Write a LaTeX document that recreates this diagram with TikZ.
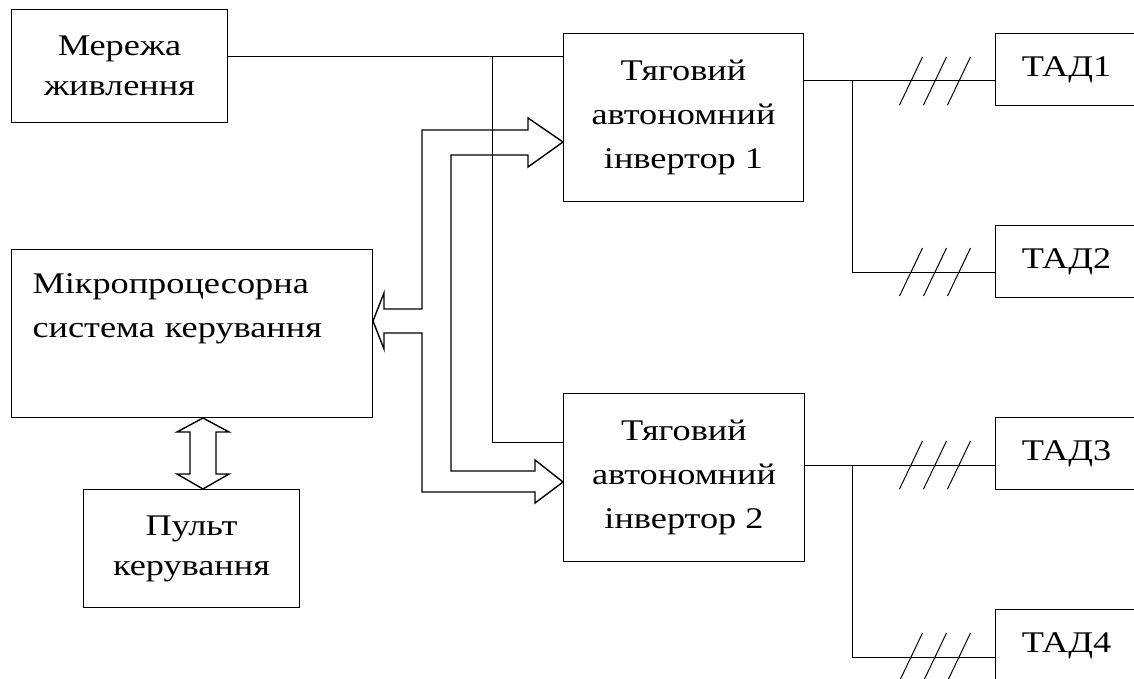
\documentclass[tikz,border=0pt]{standalone}
\usepackage{fontspec}
\setmainfont{Liberation Serif}[FakeStretch=1.21]

\begin{document}
\begin{tikzpicture}[x=1pt, y=-1pt,
    blok/.style={draw, line width=1pt, anchor=north west, align=center, inner sep=0pt,
        font=\fontsize{30}{44}\selectfont},
    tad/.style={blok, minimum width=142pt, minimum height=72pt},
    lin/.style={line width=1pt},
    shyna/.style={draw, line width=1.4pt, line join=miter}]
    \useasboundingbox (0,0) rectangle (1134,679);
    \clip (0,0) rectangle (1134,679);

    \node[blok, minimum width=216pt, minimum height=113pt, font=\fontsize{30}{40}\selectfont] (mereza) at (11,9) {Мережа\\живлення};
    \node[blok, text width=319pt, inner sep=21pt, align=left, minimum height=168pt] (mps) at (11,249)
        {Мікропроцесорна\\система керування\\[12pt]\mbox{}};
    \node[blok, minimum width=216pt, minimum height=118pt, font=\fontsize{30}{40}\selectfont] (pult) at (83,489) {Пульт\\керування};

    \node[blok, minimum width=240pt, minimum height=168pt] (tav1) at (563,33) {Тяговий\\автономний\\інвертор 1};
    \node[blok, minimum width=241pt, minimum height=168pt] (tav2) at (563,393) {Тяговий\\автономний\\інвертор 2};

    \node[tad] (tad1) at (995,33) {ТАД1};
    \node[tad] (tad2) at (995,225) {ТАД2};
    \node[tad] (tad3) at (995,417) {ТАД3};
    \node[tad] (tad4) at (995,609) {ТАД4};

    % живлення
    \draw[lin] (mereza.east |- 0,57) -- (tav1.west |- 0,57);
    \coordinate (vuzol) at (492,57);
    \draw[lin] (vuzol) -- (vuzol |- 0,442) -- (tav2.west |- 0,442);

    % виходи інверторів
    \draw[lin] (tav1.east |- 0,81) -- (tad1.west |- 0,81);
    \coordinate (v1) at (852,81);
    \draw[lin] (v1) -- (v1 |- 0,272) -- (tad2.west |- 0,272);
    \draw[lin] (tav2.east |- 0,465) -- (tad3.west |- 0,465);
    \coordinate (v2) at (852,465);
    \draw[lin] (v2) -- (v2 |- 0,657) -- (tad4.west |- 0,657);

    \foreach \ly in {81,272,465,657}
        \foreach \sx in {911,935,959}
            \draw[lin] (\sx-11.5,\ly+24) -- (\sx+11.5,\ly-24);

    % шина керування
    \draw[shyna] (528,130) -- (422,130) -- (422,309) -- (384,309) -- (384,293)
        -- (mps.east |- 0,321) -- (384,349) -- (384,333) -- (422,333) -- (422,492)
        -- (535,492) -- (535,503) -- (tav2.west |- 0,482) -- (535,460) -- (535,471)
        -- (451,471) -- (451,155) -- (528,155) -- (528,167) -- (tav1.west |- 0,142)
        -- (528,118) -- cycle;

    \draw[shyna] (mps.south -| 203,0) -- (229,432) -- (216,432) -- (216,474) -- (229,474)
        -- (pult.north -| 203,0) -- (177,474) -- (190,474) -- (190,432) -- (177,432) -- cycle;
\end{tikzpicture}
\end{document}
